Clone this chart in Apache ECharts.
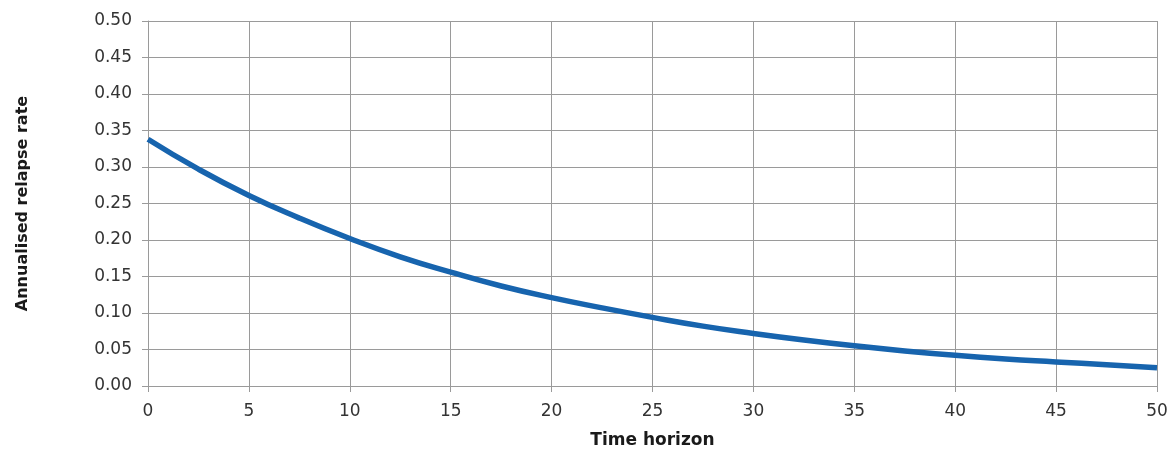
<!DOCTYPE html>
<html>
<head>
<meta charset="utf-8">
<title>Annualised relapse rate</title>
<script src="https://cdn.jsdelivr.net/npm/echarts@6/dist/echarts.min.js"></script>
<style>
  html, body { margin: 0; padding: 0; background: #fff; }
  #chart { width: 1170px; height: 450px; }
</style>
</head>
<body>
<div id="chart"></div>
<script>
// Time horizon (years)
const years = [
  0, 2.5, 5, 7.5, 10, 12.5, 15, 17.5, 20, 22.5,
  25, 27.5, 30, 32.5, 35, 37.5, 40, 42.5, 45, 47.5, 50
];
// Annualised relapse rate at each time point
const relapseRate = [
  0.338, 0.297, 0.261, 0.230, 0.202, 0.177, 0.156, 0.137, 0.121, 0.107,
  0.094, 0.082, 0.072, 0.063, 0.055, 0.048, 0.042, 0.037, 0.033, 0.029, 0.025
];
const xTicks = { min: 0, max: 50, step: 5 };
const yTicks = { min: 0, max: 0.5, step: 0.05 };

const chart = echarts.init(document.getElementById('chart'), null, { renderer: 'canvas' });
const font = 'DejaVu Sans, Verdana, sans-serif';
const gridColor = '#9a9a9a';

chart.setOption({
  animation: false,
  backgroundColor: '#ffffff',
  grid: {
    left: 148, right: 13, top: 21, bottom: 64,
    containLabel: false,
    outerBoundsMode: 'none'
  },
  xAxis: {
    type: 'value',
    min: xTicks.min, max: xTicks.max, interval: xTicks.step,
    name: 'Time horizon',
    nameLocation: 'middle',
    nameGap: 46,
    nameTextStyle: { fontFamily: font, fontWeight: 'bold', fontSize: 17, color: '#1a1a1a' },
    axisLine: { show: true, lineStyle: { color: gridColor, width: 1 } },
    axisTick: { show: true, inside: false, length: 6, lineStyle: { color: gridColor } },
    axisLabel: { fontFamily: font, fontSize: 17, color: '#333', margin: 17 },
    splitLine: { show: true, lineStyle: { color: gridColor, width: 1 } }
  },
  yAxis: {
    type: 'value',
    min: yTicks.min, max: yTicks.max, interval: yTicks.step,
    name: 'Annualised relapse rate',
    nameLocation: 'middle',
    nameGap: 117,
    nameRotate: 90,
    nameTextStyle: { fontFamily: font, fontWeight: 'bold', fontSize: 16, color: '#1a1a1a' },
    axisLine: { show: true, lineStyle: { color: gridColor, width: 1 } },
    axisTick: { show: true, inside: false, length: 6, lineStyle: { color: gridColor } },
    axisLabel: {
      fontFamily: font, fontSize: 17, color: '#333', margin: 16,
      formatter: v => v.toFixed(2)
    },
    splitLine: { show: true, lineStyle: { color: gridColor, width: 1 } }
  },
  series: [{
    type: 'line',
    data: years.map((x, i) => [x, relapseRate[i]]),
    smooth: true,
    showSymbol: false,
    lineStyle: { color: '#1764ae', width: 5.5 },
    emphasis: { disabled: true }
  }]
});
</script>
</body>
</html>
